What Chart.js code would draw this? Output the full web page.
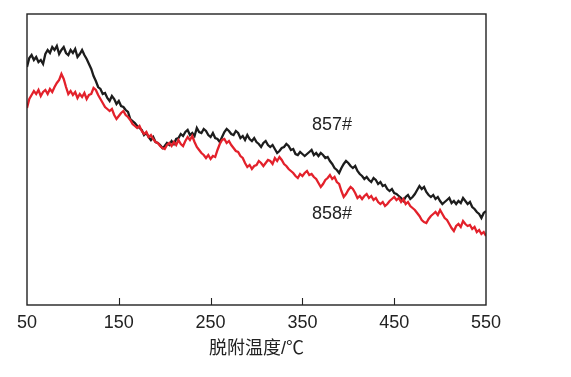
<!DOCTYPE html>
<html>
<head>
<meta charset="utf-8">
<script src="https://cdn.jsdelivr.net/npm/chart.js@4/dist/chart.umd.min.js"></script>
<style>
html,body{margin:0;padding:0;background:#fff;}
canvas{display:block;}
</style>
</head>
<body>
<canvas id="c" width="571" height="377"></canvas>
<script>
// 脱附温度 (°C)
const temps = [50,52.5,55,57.5,60,62.5,65,67.5,70,72.5,75,77.5,80,82.5,85,87.5,90,92.5,95,97.5,
  100,102.5,105,107.5,110,112.5,115,117.5,120,122.5,125,127.5,130,132.5,135,137.5,140,142.5,145,147.5,
  150,152.5,155,157.5,160,162.5,165,167.5,170,172.5,175,177.5,180,182.5,185,187.5,190,192.5,195,197.5,
  200,202.5,205,207.5,210,212.5,215,217.5,220,222.5,225,227.5,230,232.5,235,237.5,240,242.5,245,247.5,
  250,252.5,255,257.5,260,262.5,265,267.5,270,272.5,275,277.5,280,282.5,285,287.5,290,292.5,295,297.5,
  300,302.5,305,307.5,310,312.5,315,317.5,320,322.5,325,327.5,330,332.5,335,337.5,340,342.5,345,347.5,
  350,352.5,355,357.5,360,362.5,365,367.5,370,372.5,375,377.5,380,382.5,385,387.5,390,392.5,395,397.5,
  400,402.5,405,407.5,410,412.5,415,417.5,420,422.5,425,427.5,430,432.5,435,437.5,440,442.5,445,447.5,
  450,452.5,455,457.5,460,462.5,465,467.5,470,472.5,475,477.5,480,482.5,485,487.5,490,492.5,495,497.5,
  500,502.5,505,507.5,510,512.5,515,517.5,520,522.5,525,527.5,530,532.5,535,537.5,540,542.5,545,547.5,550];
// 857# (black)
const s857 = [238,247,250,245,248,243,245,241,251,255,252,258,255,259,251,255,258,252,250,255,
  252,256,248,251,255,250,246,241,236,229,224,218,216,211,212,207,204,209,206,201,
  204,199,198,195,193,186,184,182,179,177,175,170,172,168,165,168,163,162,160,157,
  159,162,160,164,161,166,167,171,169,173,175,170,172,169,177,173,172,176,174,170,
  168,172,167,166,163,168,173,176,174,171,170,174,172,167,169,165,170,166,164,167,
  163,161,158,162,164,160,158,160,156,152,154,157,158,161,159,155,156,151,150,153,
  151,149,151,153,155,150,152,149,152,150,147,148,144,141,137,135,132,137,141,144,
  142,139,137,139,134,131,129,126,128,125,123,127,125,121,123,119,120,116,114,116,
  112,111,109,107,104,108,110,106,108,111,115,119,116,118,113,110,108,110,106,108,
  104,101,103,105,107,102,104,101,104,102,107,104,101,103,98,96,93,91,87,92,94];
// 858# (red)
const s858 = [197,206,210,214,211,215,209,213,215,211,216,213,218,222,225,231,226,218,211,214,
  210,213,207,211,208,212,206,210,211,217,215,210,206,202,198,196,194,196,190,186,
  189,192,194,190,188,185,181,179,177,179,174,171,173,168,170,166,163,162,159,157,
  156,160,162,159,163,160,165,161,159,164,168,165,169,163,158,155,152,150,147,150,
  146,149,148,155,161,165,166,162,164,160,157,154,153,149,147,142,138,140,136,139,
  140,144,142,139,142,145,144,141,147,144,148,145,141,139,136,134,132,129,127,131,
  129,132,134,130,131,128,126,122,118,121,125,127,130,126,128,123,121,114,108,111,
  115,118,116,112,107,109,106,109,111,107,109,105,107,103,101,103,99,101,104,106,
  108,105,107,103,106,101,103,99,97,95,92,89,85,83,82,86,89,91,93,90,
  95,91,87,85,81,77,74,79,81,78,84,81,79,80,76,78,73,75,71,73,69];
const xTicks = [50,150,250,350,450,550];
const seriesLabels = ['857#','858#'];
const xTitle = '脱附温度/℃';

const numFont = '"Liberation Sans", Arial, sans-serif';
const cjkFont = '"Liberation Sans", "Noto Sans CJK SC", sans-serif';

const framePlugin = {
  id: 'frame',
  afterDatasetsDraw(chart) {
    const {ctx, chartArea: a, scales: {x}} = chart;
    ctx.save();
    ctx.strokeStyle = '#222';
    ctx.lineWidth = 1.4;
    ctx.strokeRect(a.left, a.top, a.right - a.left, a.bottom - a.top);
    ctx.lineWidth = 1.1;
    xTicks.forEach(v => {
      if (v === x.min || v === x.max) return;
      const px = Math.round(x.getPixelForValue(v)) + 0.5;
      ctx.beginPath();
      ctx.moveTo(px, a.bottom);
      ctx.lineTo(px, a.bottom - 7);
      ctx.stroke();
    });
    ctx.fillStyle = '#222';
    ctx.font = '18px ' + numFont;
    ctx.textBaseline = 'middle';
    ctx.textAlign = 'left';
    ctx.fillText(seriesLabels[0], 312, 125);
    ctx.fillText(seriesLabels[1], 312, 214);
    ctx.restore();
  }
};

new Chart(document.getElementById('c'), {
  type: 'line',
  data: {
    datasets: [
      {label: seriesLabels[0], data: temps.map((t,i)=>({x:t,y:s857[i]})), borderColor:'#1d1d1d', borderWidth:2.3, pointRadius:0, tension:0, order:2},
      {label: seriesLabels[1], data: temps.map((t,i)=>({x:t,y:s858[i]})), borderColor:'#e3212b', borderWidth:2.3, pointRadius:0, tension:0, order:1}
    ]
  },
  options: {
    responsive: false,
    animation: false,
    events: [],
    layout: {padding: {left: 27, right: 85, top: 14, bottom: 0}},
    plugins: {legend: {display: false}, tooltip: {enabled: false}},
    scales: {
      x: {
        type: 'linear', min: 50, max: 550,
        afterBuildTicks(s) { s.ticks = xTicks.map(v => ({value: v})); },
        afterFit(s) { s.height = 72; s.paddingLeft = 0; s.paddingRight = 0; },
        grid: {display: false, drawTicks: false},
        border: {display: false},
        ticks: {color: '#222', font: {family: numFont, size: 18}, padding: 7, maxRotation: 0, autoSkip: false},
        title: {display: true, text: xTitle, color: '#222', font: {family: cjkFont, size: 18}, padding: {top: 2, bottom: 17}}
      },
      y: {display: false, min: 0, max: 291}
    }
  },
  plugins: [framePlugin]
});
</script>
</body>
</html>
